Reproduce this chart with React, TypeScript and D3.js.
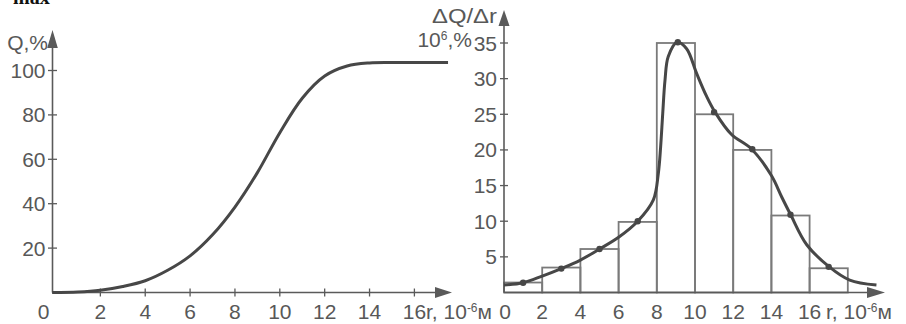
import React from "react";
import * as d3 from "d3";

// Left chart: cumulative curve Q(r)
const cumR = [-0.15, 1, 2, 3, 4, 5, 6, 7, 8, 9, 10, 11, 12, 13, 14, 15, 17.5];
const cumQ = [0, 0.2, 1, 2.7, 5.3, 10, 16.5, 26, 38.5, 54, 72, 87.5, 97.5, 102, 103.4, 103.6, 103.6];
const leftXTicks = [2, 4, 6, 8, 10, 12, 14, 16];
const leftYTicks = [20, 40, 60, 80, 100];

// Right chart: histogram + density curve
const binStarts = [0, 2, 4, 6, 8, 10, 12, 14, 16];
const binWidth = 2;
const binValues = [1.4, 3.5, 6.1, 9.9, 35, 25, 20, 10.8, 3.4];
const dotR = [1, 3, 5, 7, 9.1, 11, 13, 15, 17];
const dotV = [1.37, 3.35, 6.1, 10.0, 35.1, 25.3, 20.1, 10.9, 3.6];
const densR = [0, 1, 2, 3, 4, 5, 6, 7, 7.82, 8.08, 8.2, 8.31, 8.43, 8.6, 9.07, 9.56, 10.09, 10.61, 11.05, 11.9, 12.97, 14.0, 14.54, 15.01, 15.85, 17.03, 18.1, 19.5];
const densV = [1.05, 1.37, 2.3, 3.35, 4.55, 6.1, 7.75, 10.0, 13.0, 16.7, 20.4, 25.1, 29.8, 33.1, 35.1, 34.2, 30.7, 27.5, 25.3, 22.2, 20.1, 16.4, 13.4, 10.9, 6.7, 3.6, 1.75, 1.05];
const rightXTicks = [0, 2, 4, 6, 8, 10, 12, 14, 16];
const rightYTicks = [5, 10, 15, 20, 25, 30, 35];

const AX = "#5a5a5a";
const TXT = "#585858";
const CURVE = "#474747";
const BAR = "#7a7a7a";
const FONT = "'Liberation Sans', Arial, sans-serif";
const FS = 21;

export default function App() {
  // left scales
  const lx = d3.scaleLinear().domain([0, 16]).range([55.5, 414.4]);
  const ly = d3.scaleLinear().domain([0, 100]).range([292.5, 70.5]);
  const lAxisX = 52.5;
  // right scales
  const rx = d3.scaleLinear().domain([0, 16]).range([504, 809.6]);
  const ry = d3.scaleLinear().domain([0, 35]).range([292.5, 43]);
  const rAxisX = rx(0);

  const cumLine = d3
    .line<number>()
    .x((_, i) => lx(cumR[i]))
    .y((d) => ly(d))
    .curve(d3.curveCatmullRom.alpha(0.5));
  const densLine = d3
    .line<number>()
    .x((_, i) => rx(densR[i]))
    .y((d) => ry(d))
    .curve(d3.curveCatmullRom.alpha(0.5));

  const baseY = 292.5;

  return (
    <div style={{ position: "absolute", left: 0, top: 0 }}>
      <svg width={906} height={324} style={{ display: "block", background: "#fff" }} fontFamily={FONT}>
        {/* cut-off header text */}
        <text x={13} y={4} fontFamily="'Liberation Serif', 'Times New Roman', serif" fontSize={20} fontWeight="bold" fill="#111">max</text>

        {/* ===== LEFT CHART ===== */}
        <line x1={lAxisX} y1={baseY} x2={440} y2={baseY} stroke={AX} strokeWidth={1.6} />
        <path d={`M452,${baseY} L435,${baseY - 5.5} L435,${baseY + 5.5} Z`} fill={AX} />
        <line x1={lAxisX} y1={baseY} x2={lAxisX} y2={44} stroke={AX} strokeWidth={1.6} />
        <path d={`M${lAxisX},30 L${lAxisX - 5.3},48 L${lAxisX + 5.3},48 Z`} fill={AX} />
        {leftXTicks.map((t) => (
          <g key={"lxt" + t}>
            <line x1={lx(t)} x2={lx(t)} y1={baseY - 4} y2={baseY + 4} stroke={AX} strokeWidth={1.3} />
            <text x={lx(t)} y={319} textAnchor="middle" fontSize={FS} fill={TXT}>{t}</text>
          </g>
        ))}
        <text x={lAxisX - 9} y={319} textAnchor="middle" fontSize={FS} fill={TXT}>0</text>
        {leftYTicks.map((t) => (
          <g key={"lyt" + t}>
            <line x1={lAxisX - 4.5} x2={lAxisX + 4.5} y1={ly(t)} y2={ly(t)} stroke={AX} strokeWidth={1.3} />
            <text x={lAxisX - 7} y={ly(t)} dy="0.36em" textAnchor="end" fontSize={FS} fill={TXT}>{t}</text>
          </g>
        ))}
        <text x={48} y={50} textAnchor="end" fontSize={FS} fill={TXT}>Q,%</text>
        <text x={426} y={319} fontSize={FS} fill={TXT}>
          r, 10<tspan dy={-7} fontSize={12}>-6</tspan><tspan dy={7}>м</tspan>
        </text>
        <path d={cumLine(cumQ) || ""} fill="none" stroke={CURVE} strokeWidth={3} />

        {/* ===== RIGHT CHART ===== */}
        {binStarts.map((b, i) => (
          <rect
            key={"bar" + b}
            x={rx(b)}
            y={ry(binValues[i])}
            width={rx(b + binWidth) - rx(b)}
            height={baseY - ry(binValues[i])}
            fill="none"
            stroke={BAR}
            strokeWidth={1.8}
          />
        ))}
        <line x1={rAxisX} y1={baseY} x2={870} y2={baseY} stroke={AX} strokeWidth={1.6} />
        <path d={`M885,${baseY} L867,${baseY - 5.5} L867,${baseY + 5.5} Z`} fill={AX} />
        <line x1={rAxisX} y1={baseY} x2={rAxisX} y2={24} stroke={AX} strokeWidth={1.6} />
        <path d={`M${rAxisX},10 L${rAxisX - 5.5},26 L${rAxisX + 5.5},26 Z`} fill={AX} />
        {rightYTicks.map((t) => (
          <g key={"ryt" + t}>
            <line x1={rAxisX - 4} x2={rAxisX + 4} y1={ry(t)} y2={ry(t)} stroke={AX} strokeWidth={1.3} />
            <text x={rAxisX - 7} y={ry(t)} dy="0.36em" textAnchor="end" fontSize={FS} fill={TXT}>{t}</text>
          </g>
        ))}
        {rightXTicks.map((t) => (
          <text key={"rxt" + t} x={rx(t) + (t === 0 ? 1 : 0)} y={319} textAnchor="middle" fontSize={FS} fill={TXT}>{t}</text>
        ))}
        <text x={826} y={319} fontSize={FS} fill={TXT}>
          r, 10<tspan dy={-7} fontSize={12}>-6</tspan><tspan dy={7}>м</tspan>
        </text>
        <text x={497} y={23} textAnchor="end" fontSize={FS} fill={TXT} textLength={65} lengthAdjust="spacingAndGlyphs">ΔQ/Δr</text>
        <text x={472} y={47} textAnchor="end" fontSize={FS} fill={TXT}>
          10<tspan dy={-7} fontSize={12}>6</tspan><tspan dy={7}>,%</tspan>
        </text>
        <path d={densLine(densV) || ""} fill="none" stroke={CURVE} strokeWidth={3} />
        {dotR.map((r, i) => (
          <circle key={"dot" + r} cx={rx(r)} cy={ry(dotV[i])} r={3.2} fill={CURVE} />
        ))}
      </svg>
    </div>
  );
}
